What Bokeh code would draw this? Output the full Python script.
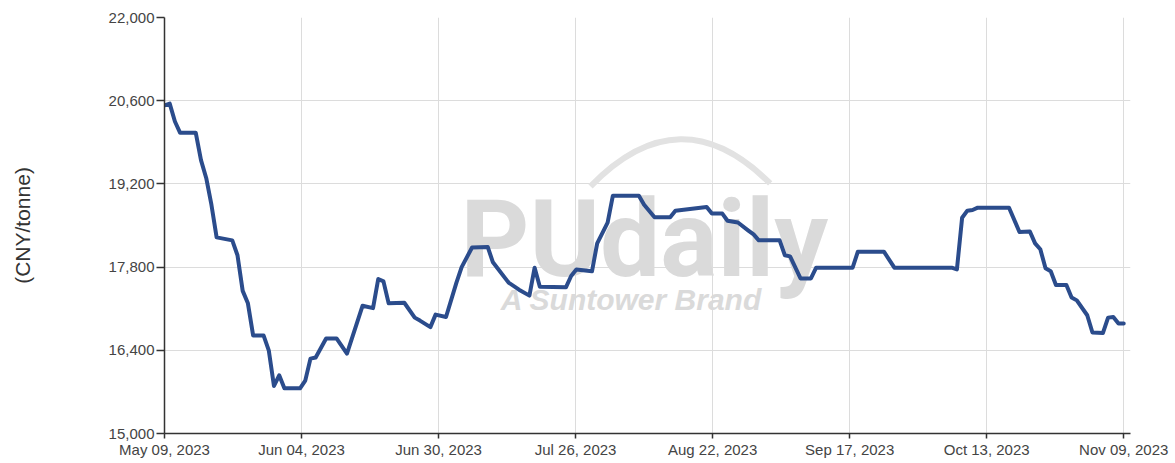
import pandas as pd
from bokeh.plotting import figure
from bokeh.models import FixedTicker, DatetimeTickFormatter, NumeralTickFormatter, Range1d
from bokeh.embed import file_html
from bokeh.resources import INLINE
from bokeh.core.properties import value

# ---- data ----
dates = [
    "2023-05-09", "2023-05-10", "2023-05-11", "2023-05-12", "2023-05-15", "2023-05-16",
    "2023-05-17", "2023-05-18", "2023-05-19", "2023-05-22", "2023-05-23", "2023-05-24",
    "2023-05-25", "2023-05-26", "2023-05-28", "2023-05-29", "2023-05-30", "2023-05-31",
    "2023-06-01", "2023-06-04", "2023-06-05", "2023-06-06", "2023-06-07", "2023-06-09",
    "2023-06-11", "2023-06-13", "2023-06-16", "2023-06-18", "2023-06-19", "2023-06-20",
    "2023-06-21", "2023-06-24", "2023-06-26", "2023-06-27", "2023-06-29", "2023-06-30",
    "2023-07-02", "2023-07-04", "2023-07-05", "2023-07-07", "2023-07-10", "2023-07-11",
    "2023-07-14", "2023-07-16", "2023-07-18", "2023-07-19", "2023-07-20", "2023-07-25",
    "2023-07-26", "2023-07-27", "2023-07-30", "2023-07-31", "2023-08-02", "2023-08-03",
    "2023-08-08", "2023-08-09", "2023-08-11", "2023-08-14", "2023-08-15", "2023-08-21",
    "2023-08-22", "2023-08-24", "2023-08-25", "2023-08-27", "2023-08-29", "2023-08-30",
    "2023-08-31", "2023-09-04", "2023-09-05", "2023-09-06", "2023-09-08", "2023-09-10",
    "2023-09-11", "2023-09-18", "2023-09-19", "2023-09-24", "2023-09-26", "2023-10-07",
    "2023-10-08", "2023-10-09", "2023-10-10", "2023-10-11", "2023-10-12", "2023-10-18",
    "2023-10-20", "2023-10-22", "2023-10-23", "2023-10-24", "2023-10-25", "2023-10-26",
    "2023-10-27", "2023-10-29", "2023-10-30", "2023-10-31", "2023-11-02", "2023-11-03",
    "2023-11-05", "2023-11-06", "2023-11-07", "2023-11-08", "2023-11-09",
]
prices = [
    20520, 20550, 20250, 20060, 20060, 19600,
    19300, 18850, 18300, 18250, 18000, 17400,
    17190, 16650, 16650, 16400, 15800, 15980,
    15760, 15760, 15890, 16260, 16280, 16600,
    16600, 16345, 17150, 17110, 17600, 17560,
    17190, 17200, 16950, 16900, 16790, 17000,
    16960, 17540, 17800, 18130, 18140, 17880,
    17540, 17420, 17320, 17790, 17470, 17460,
    17650, 17760, 17730, 18200, 18550, 19000,
    19000, 18850, 18640, 18640, 18750, 18810,
    18700, 18700, 18580, 18550, 18415, 18350,
    18250, 18250, 18000, 17980, 17610, 17610,
    17790, 17790, 18060, 18060, 17790, 17790,
    17760, 18630, 18750, 18760, 18800, 18800,
    18390, 18400, 18200, 18100, 17780, 17730,
    17500, 17500, 17290, 17240, 16990, 16700,
    16690, 16950, 16960, 16850, 16850,
]
y_ticks = [15000, 16400, 17800, 19200, 20600, 22000]
x_first = "2023-05-09"
x_last = "2023-11-09"
n_x_ticks = 8
y_label = "(CNY/tonne)"

# ---- figure ----
DAY = 86400000.0
t0 = pd.Timestamp(x_first).value / 1e6
t1 = pd.Timestamp(x_last).value / 1e6
x_ticks = [t0 + k * (t1 - t0) / (n_x_ticks - 1) for k in range(n_x_ticks)]
x_end = t1 + 1.3 * DAY

p = figure(
    x_axis_type="datetime",
    frame_width=966, frame_height=416,
    min_border_left=164, min_border_top=17, min_border_right=40, min_border_bottom=0,
    x_range=Range1d(t0, x_end), y_range=Range1d(y_ticks[0], y_ticks[-1]),
    output_backend="svg", toolbar_location=None,
)
p.outline_line_color = None
p.background_fill_color = "white"
p.border_fill_color = "white"

FONT = "Liberation Sans"

# watermark (positions as fractions of the plot frame)
def fpos(fx, fy):
    return t0 + fx * (x_end - t0), y_ticks[0] + fy * (y_ticks[-1] - y_ticks[0])

ax0, ay0 = fpos(0.441, 0.594)
ax1, ay1 = fpos(0.627, 0.601)
acx, acy = fpos(0.534, 0.817)
p.quadratic(x0=[ax0], y0=[ay0], x1=[ax1], y1=[ay1], cx=[acx], cy=[acy],
            line_color="#e2e2e2", line_width=6)
wx, wy = fpos(0.3065, 0.466)
p.text(x=[wx], y=[wy], text=["PUdaily"], text_font=value("Roboto"),
       text_font_size="107px", text_font_style="bold", text_color="#dadada",
       text_align="left", text_baseline="alphabetic")
sx, sy = fpos(0.348, 0.321)
p.text(x=[sx], y=[sy], text=["A Suntower Brand"], text_font=value(FONT),
       text_font_size="30px", text_font_style="bold italic", text_color="#dadada",
       text_align="left", text_baseline="alphabetic")

# data line
p.line(pd.to_datetime(dates), prices, line_width=4, line_color="#2B4C8C",
       line_join="round", line_cap="round")

# axes
fmt = "%b %d, %Y"
p.xaxis.ticker = FixedTicker(ticks=x_ticks)
p.xaxis.formatter = DatetimeTickFormatter(
    milliseconds=fmt, seconds=fmt, minsec=fmt, minutes=fmt, hourmin=fmt,
    hours=fmt, days=fmt, months=fmt, years=fmt)
p.yaxis.ticker = FixedTicker(ticks=y_ticks)
p.yaxis.formatter = NumeralTickFormatter(format="0,0")

for ax in (p.xaxis[0], p.yaxis[0]):
    ax.axis_line_color = "#333333"
    ax.axis_line_width = 1.5
    ax.major_tick_line_color = "#333333"
    ax.major_tick_line_width = 1.5
    ax.major_tick_in = 0
    ax.minor_tick_line_color = None
    ax.major_label_text_font = FONT
    ax.major_label_text_font_size = "15px"
    ax.major_label_text_color = "#444444"

p.xaxis.major_tick_out = 5
p.xaxis.major_label_standoff = 2
p.yaxis.major_tick_out = 8
p.yaxis.major_label_standoff = 2

p.yaxis.axis_label = y_label
p.yaxis.axis_label_text_font = FONT
p.yaxis.axis_label_text_font_size = "21px"
p.yaxis.axis_label_text_font_style = "normal"
p.yaxis.axis_label_text_color = "#333333"
p.yaxis.axis_label_standoff = 72

p.xgrid.grid_line_color = "#dcdcdc"
p.ygrid.grid_line_color = "#dcdcdc"
p.xgrid.grid_line_width = 1
p.ygrid.grid_line_width = 1

open("out.html", "w").write(file_html(p, INLINE))
